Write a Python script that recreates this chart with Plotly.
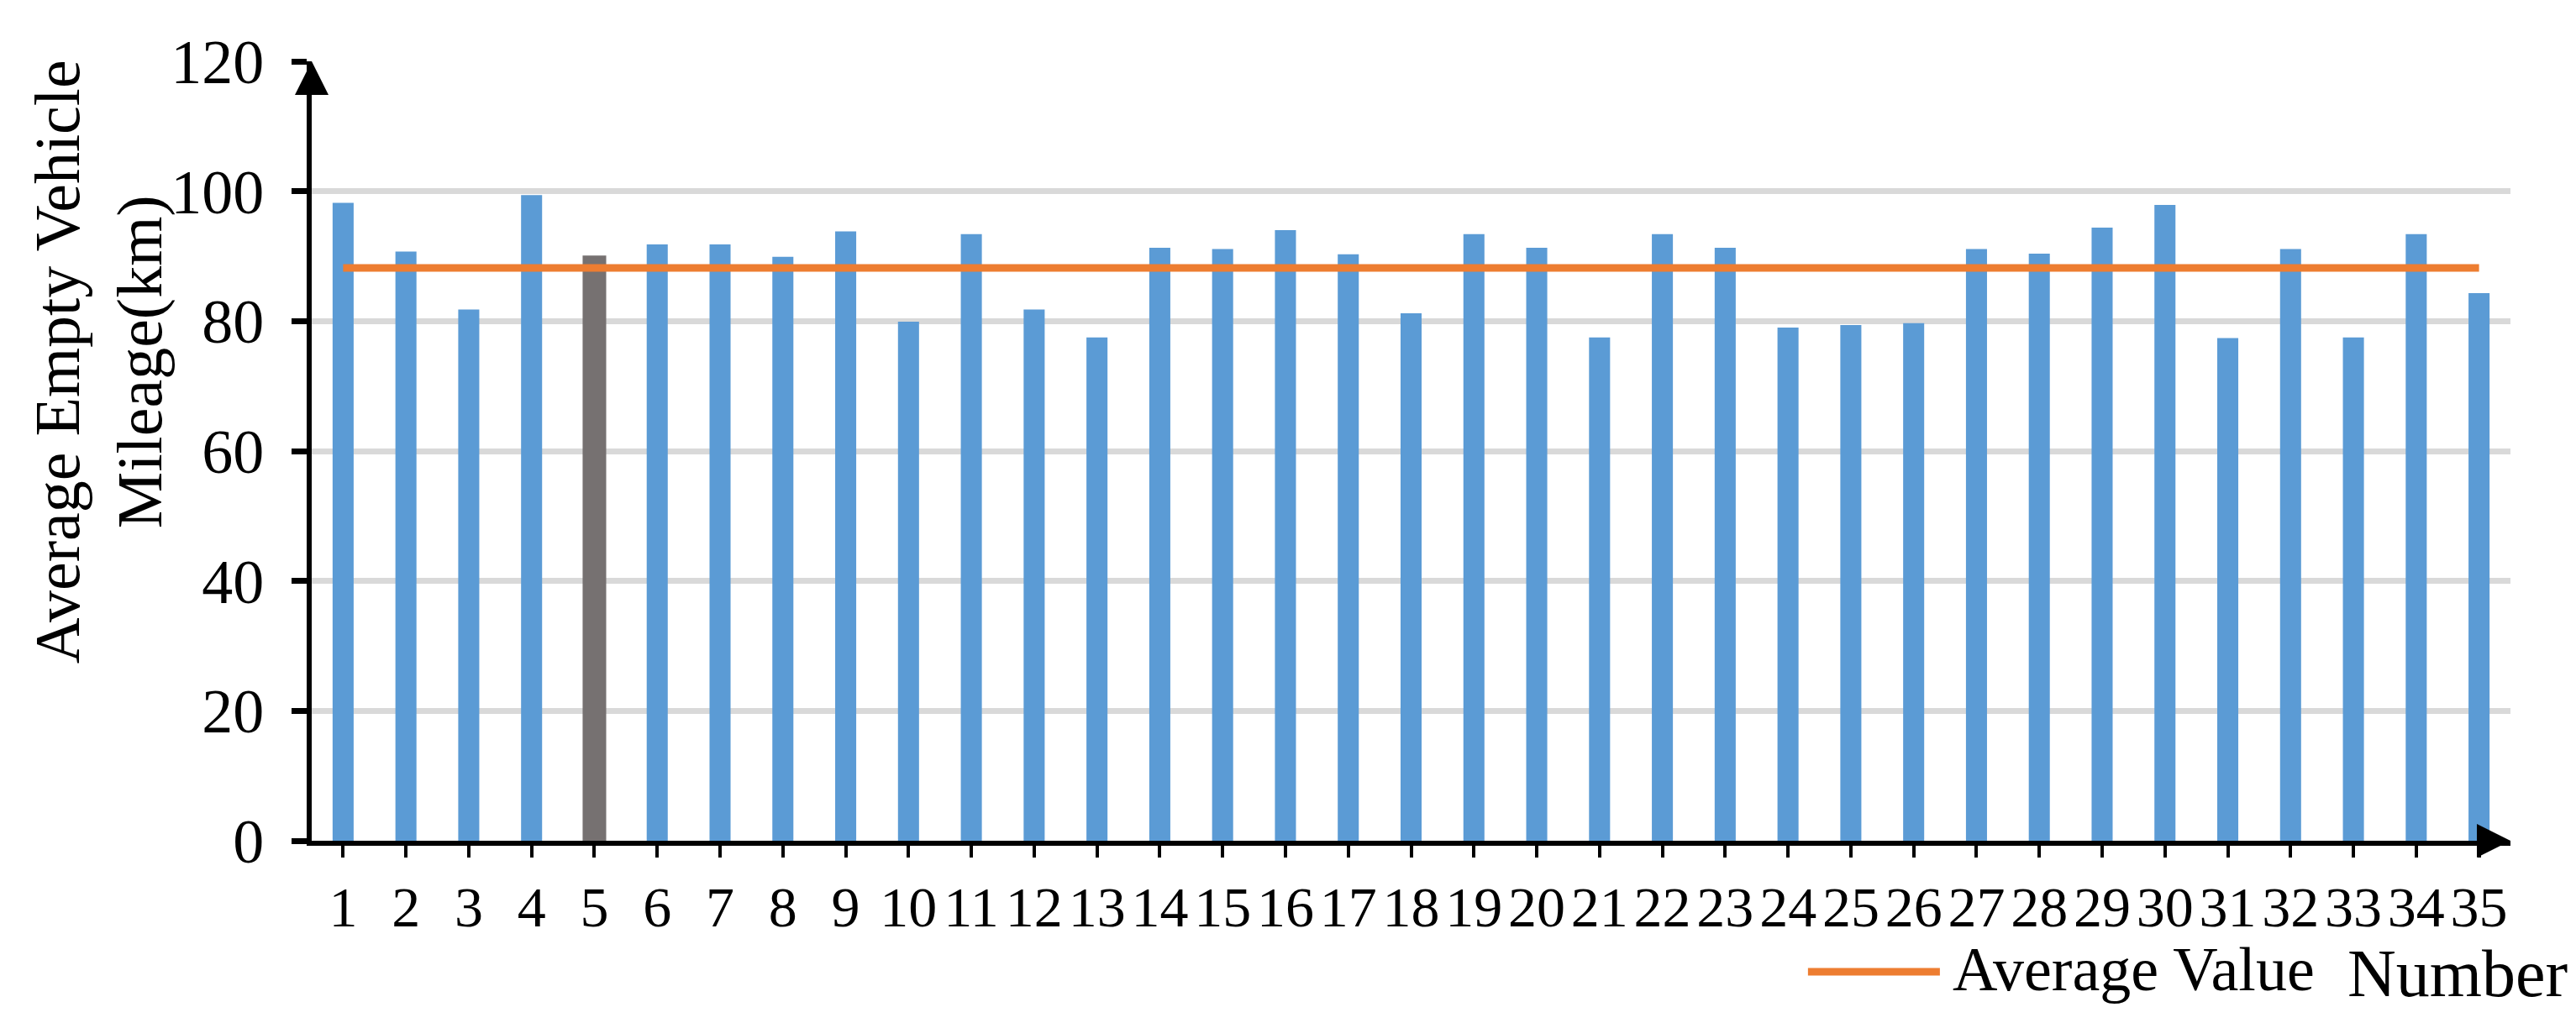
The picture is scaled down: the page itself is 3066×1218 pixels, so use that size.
import plotly.graph_objects as go

# Average empty vehicle mileage per vehicle number
numbers = [str(i) for i in range(1, 36)]
mileage = [98.2, 90.7, 81.8, 99.4, 89.9, 91.8, 91.8, 89.9, 93.8, 79.9,
           93.4, 81.8, 77.5, 91.3, 91.1, 94.0, 90.3, 81.2, 93.4, 91.3,
           77.5, 93.4, 91.3, 79.0, 79.4, 79.7, 91.1, 90.4, 94.4, 97.9,
           77.4, 91.1, 77.5, 93.4, 84.3]
highlight = "5"
avg_x = ["1", "35"]
avg_value = [88.2, 88.2]

BLUE = "#5B9BD5"
GRAY = "#767171"
ORANGE = "#ED7D31"
FONT = "Liberation Serif"

colors = [GRAY if n == highlight else BLUE for n in numbers]
outline = [3 if n == highlight else 0 for n in numbers]

fig = go.Figure()
fig.add_trace(go.Bar(
    x=numbers, y=mileage, name="Mileage",
    marker=dict(color=colors, line=dict(color=GRAY, width=outline)),
    showlegend=False,
))
fig.add_trace(go.Scatter(
    x=avg_x, y=avg_value, name="Average Value", mode="lines",
    line=dict(color=ORANGE, width=9),
    showlegend=False,
))

fig.update_layout(
    width=3066, height=1218,
    margin=dict(l=363, r=86, t=65, b=225),
    plot_bgcolor="white", paper_bgcolor="white",
    font=dict(family=FONT, size=74, color="black"),
    bargap=0.665,
)
fig.update_xaxes(
    type="category", showgrid=False, tickangle=0,
    tickmode="linear", dtick=1,
    tickfont=dict(size=68),
    showline=True, linecolor="black", linewidth=6,
    ticks="outside", ticklen=14, tickwidth=4, tickcolor="black",
    ticklabelstandoff=0,
)
fig.update_yaxes(
    range=[0, 120], dtick=20, zeroline=False,
    tickfont=dict(size=74),
    showgrid=True, gridcolor="#D9D9D9", gridwidth=7,
    showline=True, linecolor="black", linewidth=6,
    ticks="outside", ticklen=18, tickwidth=7, tickcolor="black",
    ticklabelstandoff=18,
)

# axis arrows
fig.add_annotation(xref="paper", yref="paper", x=0, y=1, ax=0, ay=40,
                   text="", showarrow=True, arrowhead=2, arrowsize=2,
                   arrowwidth=4, arrowcolor="black")
fig.add_annotation(xref="paper", yref="paper", x=1, y=0, ax=-40, ay=0,
                   text="", showarrow=True, arrowhead=2, arrowsize=2,
                   arrowwidth=4, arrowcolor="black")

# y title
fig.add_annotation(xref="paper", yref="paper", x=-0.0967, y=0.615,
                   text="Average Empty Vehicle<br>Mileage(km)", textangle=-90,
                   showarrow=False, xanchor="center", yanchor="middle",
                   font=dict(size=76))
# x title
fig.add_annotation(xref="paper", yref="paper", x=0.925, y=-0.17,
                   text="Number", showarrow=False, xanchor="left",
                   yanchor="middle", font=dict(size=80))

# legend
fig.add_shape(type="line", xref="paper", yref="paper",
              x0=0.6805, x1=0.7405, y0=-0.168, y1=-0.168,
              line=dict(color=ORANGE, width=9))
fig.add_annotation(xref="paper", yref="paper", x=0.7455, y=-0.165,
                   text="Average Value", showarrow=False, xanchor="left",
                   yanchor="middle", font=dict(size=74))

fig.write_html("out.html")
